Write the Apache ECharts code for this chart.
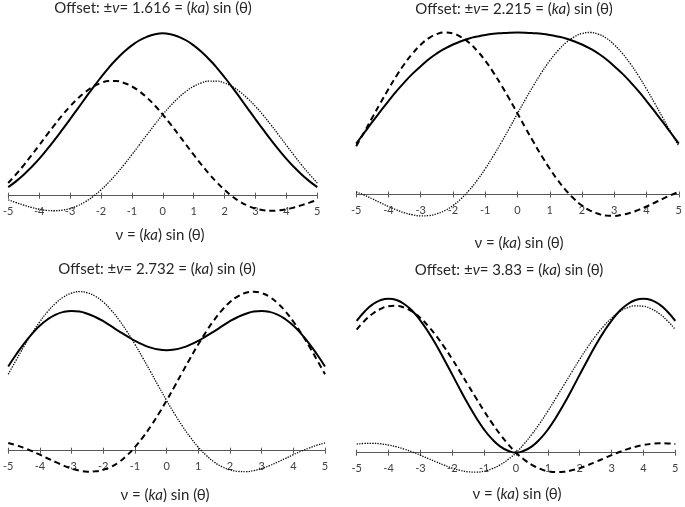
<!DOCTYPE html>
<html><head><meta charset="utf-8">
<script src="https://cdn.jsdelivr.net/npm/echarts@6/dist/echarts.min.js"></script>
<style>html,body{margin:0;padding:0;background:#fff}#c{width:685px;height:507px}</style>
</head><body><div id="c"></div>
<script>
// v = (ka) sin(theta), sampled every 0.25
const vGrid = [-5,-4.75,-4.5,-4.25,-4,-3.75,-3.5,-3.25,-3,-2.75,-2.5,-2.25,-2,-1.75,-1.5,-1.25,-1,-0.75,-0.5,-0.25,0,0.25,0.5,0.75,1,1.25,1.5,1.75,2,2.25,2.5,2.75,3,3.25,3.5,3.75,4,4.25,4.5,4.75,5];
const xTicks = [-5,-4,-3,-2,-1,0,1,2,3,4,5];
const offsets = ['1.616','2.215','2.732','3.83'];

// Panel 1 (offset 1.616)
const p1Solid  = [0.075,0.125,0.183,0.249,0.321,0.401,0.486,0.575,0.666,0.759,0.852,0.944,1.031,1.114,1.188,1.253,1.309,1.354,1.386,1.406,1.414,1.406,1.386,1.354,1.309,1.253,1.188,1.114,1.031,0.944,0.852,0.759,0.666,0.575,0.486,0.401,0.321,0.249,0.183,0.125,0.075];
const p1Dashed = [0.111,0.185,0.265,0.351,0.439,0.529,0.617,0.701,0.778,0.846,0.904,0.950,0.981,0.998,0.998,0.982,0.952,0.908,0.851,0.783,0.707,0.623,0.535,0.446,0.357,0.271,0.190,0.116,0.050,-0.006,-0.052,-0.087,-0.112,-0.126,-0.131,-0.128,-0.118,-0.102,-0.082,-0.060,-0.036];
const p1Dotted = [-0.036,-0.060,-0.082,-0.102,-0.118,-0.128,-0.131,-0.126,-0.112,-0.087,-0.052,-0.006,0.050,0.116,0.190,0.271,0.357,0.446,0.535,0.623,0.707,0.783,0.851,0.908,0.952,0.982,0.998,0.998,0.981,0.950,0.904,0.846,0.778,0.701,0.617,0.529,0.439,0.351,0.265,0.185,0.111];

// Panel 2 (offset 2.215)
const p2Solid  = [0.314,0.381,0.448,0.513,0.577,0.638,0.694,0.746,0.792,0.835,0.871,0.901,0.926,0.946,0.963,0.975,0.985,0.992,0.996,0.999,1.000,0.999,0.996,0.992,0.985,0.975,0.963,0.946,0.926,0.901,0.871,0.835,0.792,0.746,0.694,0.638,0.577,0.513,0.448,0.381,0.314];
const p2Dashed = [0.298,0.385,0.475,0.564,0.651,0.733,0.807,0.871,0.924,0.965,0.990,1.000,0.994,0.972,0.937,0.887,0.826,0.754,0.674,0.589,0.500,0.410,0.322,0.238,0.159,0.088,0.026,-0.026,-0.068,-0.099,-0.119,-0.130,-0.132,-0.125,-0.113,-0.095,-0.074,-0.051,-0.027,-0.004,0.016];
const p2Dotted = [0.016,-0.004,-0.027,-0.051,-0.074,-0.095,-0.113,-0.125,-0.132,-0.130,-0.119,-0.099,-0.068,-0.026,0.026,0.088,0.159,0.238,0.322,0.410,0.500,0.589,0.674,0.754,0.826,0.887,0.937,0.972,0.994,1.000,0.990,0.965,0.924,0.871,0.807,0.733,0.651,0.564,0.475,0.385,0.298];

// Panel 3 (offset 2.732)
const p3Solid  = [0.530,0.605,0.674,0.735,0.787,0.827,0.856,0.873,0.879,0.875,0.861,0.841,0.815,0.783,0.751,0.720,0.691,0.667,0.648,0.636,0.632,0.636,0.648,0.667,0.691,0.720,0.751,0.783,0.815,0.841,0.861,0.875,0.879,0.873,0.856,0.827,0.787,0.735,0.674,0.605,0.530];
const p3Dashed = [0.049,0.035,0.017,-0.003,-0.025,-0.049,-0.072,-0.094,-0.112,-0.125,-0.132,-0.130,-0.120,-0.101,-0.071,-0.029,0.022,0.084,0.154,0.232,0.316,0.404,0.494,0.583,0.669,0.749,0.822,0.884,0.935,0.971,0.993,1.000,0.991,0.967,0.928,0.876,0.812,0.738,0.657,0.570,0.481];
const p3Dotted = [0.481,0.570,0.657,0.738,0.812,0.876,0.928,0.967,0.991,1.000,0.993,0.971,0.935,0.884,0.822,0.749,0.669,0.583,0.494,0.404,0.316,0.232,0.154,0.084,0.022,-0.029,-0.071,-0.101,-0.120,-0.130,-0.132,-0.125,-0.112,-0.094,-0.072,-0.049,-0.025,-0.003,0.017,0.035,0.049];

// Panel 4 (offset 3.83)
const p4Solid  = [0.897,0.961,1.009,1.038,1.048,1.039,1.010,0.964,0.899,0.820,0.731,0.633,0.531,0.428,0.329,0.238,0.157,0.092,0.043,0.013,0.000,0.013,0.043,0.092,0.157,0.238,0.329,0.428,0.531,0.633,0.731,0.820,0.899,0.964,1.010,1.039,1.048,1.038,1.009,0.961,0.897];
const p4Dashed = [0.838,0.898,0.945,0.978,0.996,0.999,0.986,0.959,0.916,0.860,0.794,0.718,0.636,0.548,0.459,0.370,0.283,0.201,0.126,0.059,0.000,-0.046,-0.083,-0.109,-0.126,-0.132,-0.130,-0.120,-0.105,-0.085,-0.063,-0.040,-0.017,0.005,0.024,0.040,0.052,0.060,0.064,0.063,0.059];
const p4Dotted = [0.059,0.063,0.064,0.060,0.052,0.040,0.024,0.005,-0.017,-0.040,-0.063,-0.085,-0.105,-0.120,-0.130,-0.132,-0.126,-0.109,-0.083,-0.046,0.000,0.059,0.126,0.201,0.283,0.370,0.459,0.548,0.636,0.718,0.794,0.860,0.916,0.959,0.986,0.999,0.996,0.978,0.945,0.898,0.838];

const FONT = 'Lato, "Liberation Sans", sans-serif';
// grid bottom edge sits on the v-axis (y = 0); curves below zero are drawn unclipped
const panels = [
  {offset: offsets[0], solid: p1Solid, dashed: p1Dashed, dotted: p1Dotted,
   grid: {left: 4.7, top: 12.0, width: 312.6, height: 183.7}, ymax: 1.6, title: [153, 8], label: [160, 235]},
  {offset: offsets[1], solid: p2Solid, dashed: p2Dashed, dotted: p2Dotted,
   grid: {left: 356.2, top: 16.3, width: 322.8, height: 178.2}, ymax: 1.1, title: [514, 9], label: [519, 243]},
  {offset: offsets[2], solid: p3Solid, dashed: p3Dashed, dotted: p3Dotted,
   grid: {left: 5.7, top: 275.8, width: 319.3, height: 174.9}, ymax: 1.1, title: [157, 269], label: [165, 495]},
  {offset: offsets[3], solid: p4Solid, dashed: p4Dashed, dotted: p4Dotted,
   grid: {left: 356.7, top: 276.3, width: 318.6, height: 176.4}, ymax: 1.2, title: [509, 270], label: [517, 494]}
];

const grids = [], xAxes = [], yAxes = [], series = [], graphics = [];
const axisColor = '#595959';
const rich = {
  n: {fontFamily: FONT, fontSize: 15, fill: '#262626'},
  i: {fontFamily: FONT, fontSize: 15, fontStyle: 'italic', fill: '#262626'}
};
panels.forEach((p, i) => {
  grids.push(Object.assign({containLabel: false}, p.grid));
  const base = {type: 'value', gridIndex: i, min: xTicks[0], max: xTicks[xTicks.length - 1], interval: 1,
    splitLine: {show: false}, position: 'bottom'};
  xAxes.push(Object.assign({}, base, {
    axisLine: {show: true, onZero: false, lineStyle: {color: axisColor, width: 1}},
    axisTick: {show: true, inside: false, length: 3, lineStyle: {color: axisColor}},
    axisLabel: {show: true, margin: 10, fontSize: 11, fontFamily: FONT, color: '#404040'}
  }));
  xAxes.push(Object.assign({}, base, {
    axisLine: {show: false, onZero: false},
    axisTick: {show: true, inside: true, length: 3, lineStyle: {color: axisColor}},
    axisLabel: {show: false}
  }));
  yAxes.push({type: 'value', gridIndex: i, min: 0, max: p.ymax, show: false, splitLine: {show: false}});
  const mk = (arr) => vGrid.map((v, k) => [v, arr[k]]);
  series.push({type: 'line', xAxisIndex: i * 2, yAxisIndex: i, data: mk(p.dotted), showSymbol: false, smooth: true, clip: false,
    lineStyle: {color: '#000', width: 1.3, type: [1.3, 1.3]}, z: 2});
  series.push({type: 'line', xAxisIndex: i * 2, yAxisIndex: i, data: mk(p.dashed), showSymbol: false, smooth: true, clip: false,
    lineStyle: {color: '#000', width: 2, type: [6, 4]}, z: 3});
  series.push({type: 'line', xAxisIndex: i * 2, yAxisIndex: i, data: mk(p.solid), showSymbol: false, smooth: true, clip: false,
    lineStyle: {color: '#000', width: 2}, z: 4});
  graphics.push({type: 'text', x: p.title[0], y: p.title[1],
    style: {text: '{n|Offset: ±}{i|ν}{n|= ' + p.offset + ' = (}{i|ka}{n|) sin (θ)}', rich: rich, align: 'center', verticalAlign: 'middle'}});
  graphics.push({type: 'text', x: p.label[0], y: p.label[1],
    style: {text: '{n|ν = (}{i|ka}{n|) sin (θ)}', rich: rich, align: 'center', verticalAlign: 'middle'}});
});

const chart = echarts.init(document.getElementById('c'));
chart.setOption({
  animation: false,
  backgroundColor: '#fff',
  grid: grids, xAxis: xAxes, yAxis: yAxes, series: series, graphic: graphics
});
</script></body></html>
